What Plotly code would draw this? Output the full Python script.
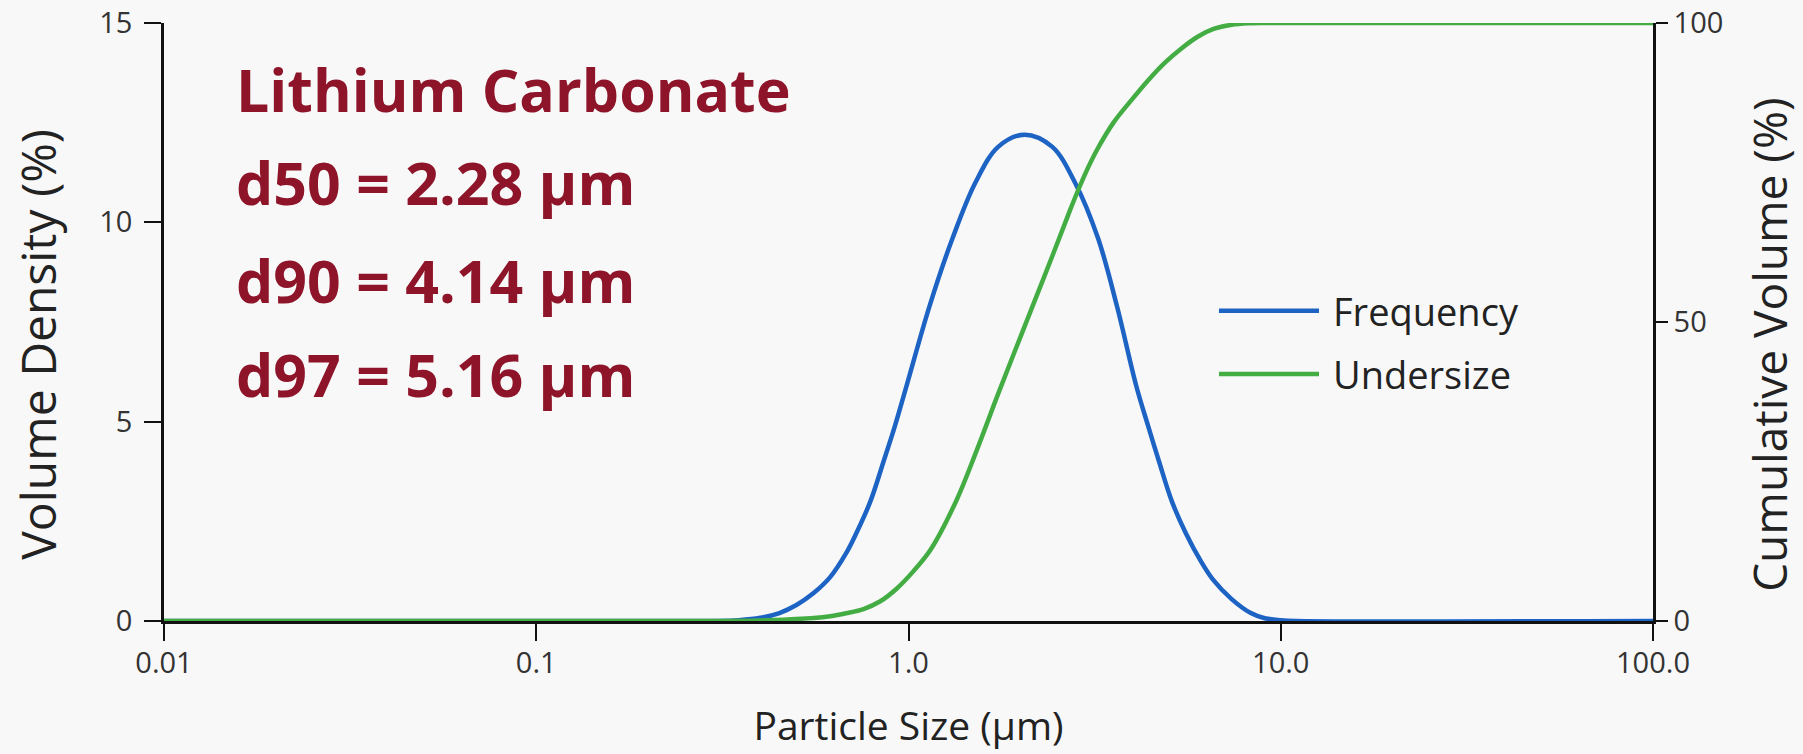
import plotly.graph_objects as go

# ---- data ----
freq_size_um = [0.01, 0.1, 0.3, 0.35, 0.40, 0.45, 0.50, 0.556, 0.616, 0.68, 0.724, 0.79, 0.857,
                0.92, 0.988, 1.139, 1.313, 1.513, 1.744, 2.05, 2.43, 2.80, 3.23, 3.63, 4.09,
                4.40, 4.71, 5.10, 5.56, 6.10, 6.56, 7.38, 8.31, 9.06, 10.0, 11.0, 100.0]
freq_volume_pct = [0.0, 0.0, 0.0, 0.02, 0.08, 0.2, 0.4, 0.7, 1.1, 1.7, 2.2, 3.0, 4.0,
                   4.9, 5.9, 7.9, 9.6, 11.0, 11.9, 12.2, 11.9, 11.0, 9.6, 7.9, 5.9,
                   4.9, 4.0, 3.0, 2.2, 1.5, 1.05, 0.55, 0.2, 0.07, 0.02, 0.0, 0.0]

under_size_um = [0.01, 0.1, 0.3, 0.40, 0.486, 0.556, 0.616, 0.68, 0.757, 0.84, 0.929, 1.03,
                 1.146, 1.346, 1.524, 1.744, 2.01, 2.32, 2.67, 2.785, 3.0, 3.21, 3.55, 3.97,
                 4.40, 4.87, 5.40, 5.98, 6.60, 7.38, 8.20, 9.06, 10.0, 100.0]
under_cum_pct = [0.0, 0.0, 0.0, 0.1, 0.3, 0.5, 0.8, 1.3, 2.0, 3.3, 5.4, 8.3,
                 11.9, 20.2, 28.5, 38.1, 47.9, 57.7, 67.5, 70.4, 75.1, 78.8, 83.3, 87.1,
                 90.4, 93.3, 95.7, 97.7, 99.0, 99.7, 99.95, 100.0, 100.0, 100.0]

x_tick_vals = [0.01, 0.1, 1, 10, 100]
x_tick_text = ["0.01", "0.1", "1.0", "10.0", "100.0"]
y1_ticks = [0, 5, 10, 15]
y2_ticks = [0, 50, 100]

annotation_lines = ["Lithium Carbonate", "d50 = 2.28 µm", "d90 = 4.14 µm", "d97 = 5.16 µm"]
series_names = ["Frequency", "Undersize"]
x_title = "Particle Size (µm)"
y1_title = "Volume Density (%)"
y2_title = "Cumulative Volume (%)"

BLUE = "#1c63c4"
GREEN = "#43ad44"
RED = "#8e1429"
BG = "#f8f8f8"
FONT = "Open Sans"

fig = go.Figure()
fig.add_trace(go.Scatter(x=freq_size_um, y=freq_volume_pct, name=series_names[0],
                         mode="lines", line=dict(color=BLUE, width=4.5, shape="spline", smoothing=1.0),
                         yaxis="y", showlegend=False))
fig.add_trace(go.Scatter(x=under_size_um, y=under_cum_pct, name=series_names[1],
                         mode="lines", line=dict(color=GREEN, width=4.5, shape="spline", smoothing=1.0),
                         yaxis="y2", showlegend=False))

axis_common = dict(showgrid=False, zeroline=False, showline=True, linecolor="#111111",
                   linewidth=2.5, ticks="outside", tickcolor="#111111", tickwidth=2,
                   automargin=False)

fig.update_layout(
    width=1803, height=754,
    paper_bgcolor=BG, plot_bgcolor=BG,
    margin=dict(l=164, r=150, t=23, b=133, autoexpand=False),
    font=dict(family=FONT, color="#222222"),
    xaxis=dict(type="log", range=[-2, 2], tickvals=x_tick_vals, ticktext=x_tick_text,
               ticklen=17, ticklabelstandoff=-3, tickfont=dict(size=29, color="#333333"),
               title=dict(text=x_title, font=dict(size=39, color="#222222"), standoff=34),
               **axis_common),
    yaxis=dict(range=[0, 15], tickvals=y1_ticks, ticklen=17, ticklabelstandoff=6,
               tickfont=dict(size=29, color="#333333"), **axis_common),
    yaxis2=dict(range=[0, 100], tickvals=y2_ticks, overlaying="y", side="right", ticklen=12,
                tickfont=dict(size=29, color="#333333"), **axis_common),
)

# vertical axis titles (placed as rotated text, centred as in the reference)
fig.add_annotation(text=y1_title, xref="paper", yref="paper", x=-0.0846, y=0.462,
                   xanchor="center", yanchor="middle", textangle=-90, showarrow=False,
                   font=dict(family=FONT, size=48, color="#222222"))
fig.add_annotation(text=y2_title, xref="paper", yref="paper", x=1.078, y=0.462,
                   xanchor="center", yanchor="middle", textangle=-90, showarrow=False,
                   font=dict(family=FONT, size=46, color="#222222"))

# annotation block
ys = [0.890, 0.734, 0.571, 0.413]
for txt, yy in zip(annotation_lines, ys):
    fig.add_annotation(text=f"<b>{txt}</b>", xref="paper", yref="paper", x=0.047, y=yy,
                       xanchor="left", yanchor="middle", showarrow=False,
                       font=dict(family=FONT, size=59, color=RED))

# manual legend with long line samples
leg_items = [(series_names[0], BLUE, 0.519), (series_names[1], GREEN, 0.413)]
for name, col, yy in leg_items:
    fig.add_shape(type="line", xref="paper", yref="paper", x0=0.7085, x1=0.7757, y0=yy, y1=yy,
                  line=dict(color=col, width=4.5))
    fig.add_annotation(text=name, xref="paper", yref="paper", x=0.784, y=yy, xanchor="left",
                       yanchor="middle", showarrow=False, font=dict(family=FONT, size=38, color="#222222"))

fig.write_html("out.html", config={"displayModeBar": False},
               post_script="document.body.style.margin='0';document.body.style.background='#f8f8f8';")
